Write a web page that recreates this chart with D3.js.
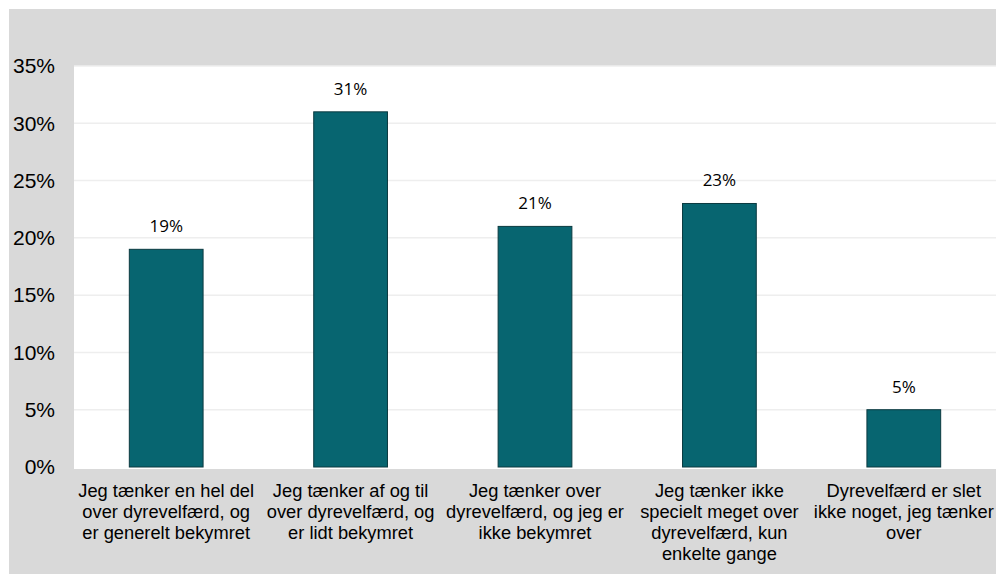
<!DOCTYPE html>
<html><head><meta charset="utf-8">
<script src="https://cdn.jsdelivr.net/npm/d3@7"></script>
<style>body{margin:0;background:#fff}svg{display:block}</style>
</head><body>
<svg id="c" width="996" height="575"></svg>
<script>
const categories = [
  "Jeg tænker en hel del\nover dyrevelfærd, og\ner generelt bekymret",
  "Jeg tænker af og til\nover dyrevelfærd, og\ner lidt bekymret",
  "Jeg tænker over\ndyrevelfærd, og jeg er\nikke bekymret",
  "Jeg tænker ikke\nspecielt meget over\ndyrevelfærd, kun\nenkelte gange",
  "Dyrevelfærd er slet\nikke noget, jeg tænker\nover"
];
const values = [0.19, 0.31, 0.21, 0.23, 0.05];
const yTicks = [0, 0.05, 0.10, 0.15, 0.20, 0.25, 0.30, 0.35];

const svg = d3.select("#c");
svg.append("rect").attr("x",9).attr("y",9).attr("width",987).attr("height",565).attr("fill","#d9d9d9");
const m = {left:74, top:66, right:996, bottom:467};
svg.append("rect").attr("x",m.left).attr("y",m.top).attr("width",m.right-m.left).attr("height",469-m.top).attr("fill","#fff");

const x = d3.scaleBand().domain(d3.range(categories.length)).range([m.left,m.right]).paddingInner(0.6).paddingOuter(0.3);
const y = d3.scaleLinear().domain([0,0.35]).range([m.bottom,m.top]);

// gridlines
svg.append("g").selectAll("line").data(yTicks.filter(t=>t>0)).join("line")
  .attr("x1",m.left).attr("x2",m.right)
  .attr("y1",d=>y(d)).attr("y2",d=>y(d))
  .attr("stroke","#eeeeee").attr("stroke-width",1.5);

// y axis
const yAxis = d3.axisLeft(y).tickValues(yTicks).tickFormat(d3.format(".0%")).tickSize(0).tickPadding(19);
const ga = svg.append("g").attr("transform",`translate(${m.left},0)`).call(yAxis);
ga.select(".domain").remove();
ga.selectAll("text").attr("font-family","Liberation Sans, Arial, sans-serif").attr("font-size",21).attr("fill","#000");

// bars
svg.append("g").selectAll("rect").data(values).join("rect")
  .attr("x",(d,i)=>x(i)).attr("width",x.bandwidth())
  .attr("y",d=>y(d)).attr("height",d=>y(0)-y(d))
  .attr("fill","#076570").attr("stroke","#0b3a40").attr("stroke-width",1);

// value labels
svg.append("g").selectAll("text").data(values).join("text")
  .attr("x",(d,i)=>x(i)+x.bandwidth()/2).attr("y",d=>y(d)-17)
  .attr("text-anchor","middle")
  .attr("font-family","Open Sans, Lato, sans-serif").attr("font-size",17).attr("fill","#000")
  .text(d=>d3.format(".0%")(d));

// category labels
const cl = svg.append("g").selectAll("text").data(categories).join("text")
  .attr("x",(d,i)=>x(i)+x.bandwidth()/2).attr("y",497)
  .attr("text-anchor","middle")
  .attr("font-family","Liberation Sans, Arial, sans-serif").attr("font-size",18.3).attr("fill","#000");
cl.each(function(d,i){
  const t = d3.select(this);
  const cx = x(i)+x.bandwidth()/2;
  d.split("\n").forEach((ln,j)=>{
    t.append("tspan").attr("x",cx).attr("dy", j===0?0:21).text(ln);
  });
});
</script>
</body></html>
